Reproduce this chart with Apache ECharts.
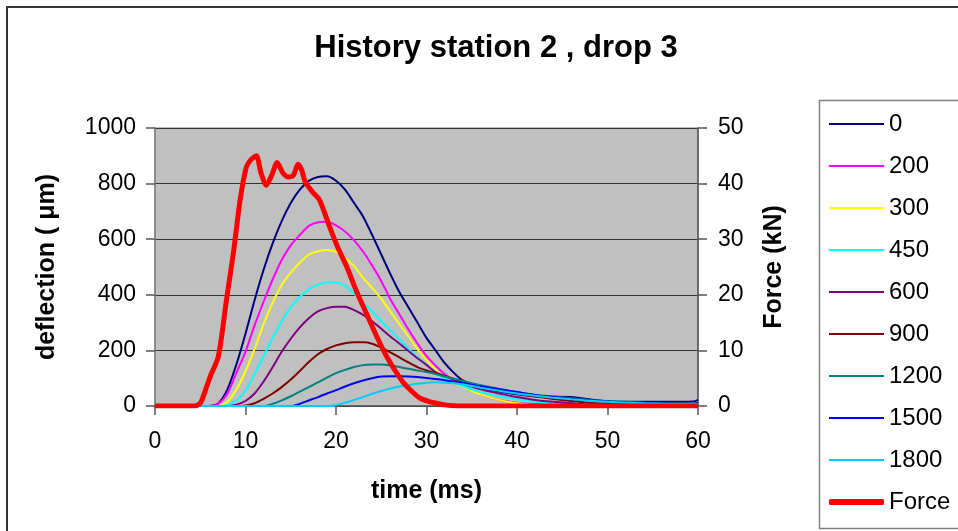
<!DOCTYPE html>
<html>
<head>
<meta charset="utf-8">
<title>History station 2 , drop 3</title>
<script src="https://cdn.jsdelivr.net/npm/echarts@6/dist/echarts.min.js"></script>
<style>
  html, body { margin: 0; padding: 0; background: #fff; }
  #chart { width: 958px; height: 531px; }
</style>
</head>
<body>
<div id="chart"></div>
<script>
// time axis shared by the deflection curves (ms)
const timeMs = [0, 6, 7, 8, 9, 10, 11, 12, 13, 14, 15, 16, 17, 18, 19, 20, 21, 22, 23, 24,
  25, 26, 27, 28, 29, 30, 31, 32, 33, 34, 35, 36, 38, 40, 42, 44, 46, 48, 50, 52,
  54, 56, 58, 59.5, 60];

// deflection (um) per geophone offset
const d0 = [0, 0, 10, 60, 150, 260, 380, 490, 585, 665, 730, 778, 810, 824, 826, 810, 778, 730, 681, 615,
  545, 475, 410, 355, 300, 245, 200, 155, 120, 92, 78, 66, 52, 42, 34, 33, 32, 24, 17, 15,
  15, 15, 15, 16, 22];
const d200 = [0, 0, 8, 45, 120, 195, 290, 375, 455, 525, 578, 615, 648, 661, 663, 650, 628, 596, 555, 505,
  450, 385, 330, 275, 225, 180, 145, 115, 92, 75, 58, 42, 22, 12, 6, 2, 1, 0, 0, 0,
  0, 0, 0, 0, 0];
const d300 = [0, 0, 0, 15, 60, 125, 205, 295, 372, 435, 480, 515, 545, 557, 561, 555, 533, 503, 460, 425,
  385, 340, 295, 250, 205, 165, 132, 103, 85, 70, 55, 42, 22, 10, 3, 0, 0, 0, 0, 0,
  0, 0, 0, 0, 0];
const d450 = [0, 0, 0, 3, 20, 55, 115, 180, 245, 305, 355, 392, 420, 436, 444, 444, 432, 405, 372, 340,
  305, 272, 240, 205, 175, 148, 122, 100, 85, 72, 60, 50, 35, 24, 15, 8, 4, 2, 0, 0,
  0, 0, 0, 0, 0];
const d600 = [0, 0, 0, 0, 5, 18, 45, 88, 140, 195, 242, 283, 316, 340, 352, 357, 357, 345, 328, 305,
  278, 250, 225, 198, 172, 148, 122, 108, 95, 82, 70, 60, 45, 32, 22, 15, 10, 6, 4, 2,
  1, 0, 0, 0, 0];
const d900 = [0, 0, 0, 0, 0, 2, 10, 26, 45, 68, 95, 126, 158, 186, 205, 218, 226, 229, 229, 224,
  210, 193, 175, 157, 140, 128, 118, 108, 98, 88, 80, 72, 58, 45, 35, 25, 18, 12, 8, 5,
  3, 2, 1, 0, 0];
const d1200 = [0, 0, 0, 0, 0, 0, 0, 0, 8, 20, 35, 52, 68, 85, 102, 118, 130, 140, 147, 149,
  149, 146, 140, 134, 128, 122, 115, 106, 98, 90, 82, 75, 62, 50, 40, 34, 28, 22, 18, 15,
  12, 10, 9, 9, 12];
const d1500 = [0, 0, 0, 0, 0, 0, 0, 0, 0, 0, 0, 8, 20, 32, 45, 57, 70, 82, 92, 100,
  106, 107, 107, 106, 104, 101, 97, 93, 88, 82, 76, 71, 60, 50, 40, 32, 25, 20, 16, 12,
  10, 8, 7, 7, 10];
const d1800 = [0, 0, 0, 0, 0, 0, 0, 0, 0, 0, 0, 0, 0, 0, 0, 3, 12, 22, 32, 44,
  54, 63, 70, 75, 80, 84, 85, 84, 82, 78, 72, 66, 55, 45, 37, 30, 24, 19, 15, 12,
  10, 8, 7, 7, 7];

// load pulse (kN), own time base
const forceTime = [0, 4.4, 5.0, 5.5, 6.1, 7.0, 7.9, 8.7, 9.4, 10.1, 10.6, 11.2, 11.7, 12.3, 12.9, 13.5,
  14.1, 14.7, 15.3, 15.8, 16.2, 16.6, 17.4, 18.2, 19.3, 20.2, 21.2, 22.3, 23.4, 24.5, 25.6,
  26.6, 27.4, 28.4, 29.3, 30.3, 31.1, 32.0, 33.0, 34.0, 60];
const forceKN = [0, 0, 0.5, 2.5, 5.3, 8.9, 19.1, 28, 37, 43, 44.3, 45, 42, 39.7, 41.5, 43.8,
  42, 41.2, 41.5, 43.5, 42.5, 40.3, 38.5, 37, 32.2, 28.5, 25, 20.5, 16.5, 12.5, 8.9,
  6.2, 4.3, 2.6, 1.4, 0.8, 0.5, 0.2, 0.05, 0, 0];

const offsetNames = ['0', '200', '300', '450', '600', '900', '1200', '1500', '1800'];
const offsetValues = [d0, d200, d300, d450, d600, d900, d1200, d1500, d1800];
const offsetColors = ['#000080', '#FF00FF', '#FFFF00', '#00FFFF', '#800080', '#800000', '#008080', '#0000FF', '#00CCFF'];

const leftTicks = [0, 1000, 200];   // min, max, interval
const rightTicks = [0, 50, 10];
const timeTicks = [0, 60, 10];

const font = 'Liberation Sans, Arial, sans-serif';

const pairs = (xs, ys) => xs.map((x, i) => [x, ys[i]]);
const plain = v => String(v);

const series = offsetNames.map((name, i) => ({
  name: name,
  type: 'line',
  yAxisIndex: 0,
  data: pairs(timeMs, offsetValues[i]),
  showSymbol: false,
  symbol: 'none',
  smooth: 0.25,
  lineStyle: { color: offsetColors[i], width: 2 },
  itemStyle: { color: offsetColors[i] },
  z: 2
}));
series.push({
  name: 'Force',
  type: 'line',
  yAxisIndex: 1,
  data: pairs(forceTime, forceKN),
  showSymbol: false,
  symbol: 'none',
  smooth: 0.25,
  lineStyle: { color: '#FF0000', width: 5 },
  itemStyle: { color: '#FF0000' },
  z: 3
});

const chart = echarts.init(document.getElementById('chart'));

const option = {
  backgroundColor: '#ffffff',
  animation: false,
  title: {
    text: 'History station 2 , drop 3',
    left: 491,
    top: 28,
    textAlign: 'center',
    textStyle: { fontFamily: font, fontSize: 31, fontWeight: 'bold', color: '#000' }
  },
  graphic: [
    {
      type: 'rect',
      z: -10,
      shape: { x: 7, y: 7, width: 1000, height: 1000 },
      style: { fill: 'none', stroke: '#333', lineWidth: 2 }
    },
    {
      type: 'rect',
      z: -5,
      shape: { x: 819.5, y: 100.5, width: 140, height: 428 },
      style: { fill: '#fff', stroke: '#808080', lineWidth: 1.5 }
    }
  ],
  legend: [
    {
      data: offsetNames,
      orient: 'vertical',
      left: 829,
      top: 112,
      padding: 0,
      itemWidth: 55,
      itemHeight: 2,
      itemGap: 18,
      icon: 'rect',
      textStyle: { fontFamily: font, fontSize: 24, lineHeight: 24, color: '#000' }
    },
    {
      data: ['Force'],
      orient: 'vertical',
      left: 829,
      top: 490,
      padding: 0,
      itemWidth: 55,
      itemHeight: 6,
      icon: 'roundRect',
      textStyle: { fontFamily: font, fontSize: 24, lineHeight: 24, color: '#000' }
    }
  ],
  grid: {
    left: 155,
    right: 260,
    top: 128,
    bottom: 125,
    show: true,
    backgroundColor: '#C0C0C0',
    borderColor: '#808080',
    borderWidth: 1,
    outerBoundsMode: 'none'
  },
  xAxis: {
    type: 'value',
    min: timeTicks[0],
    max: timeTicks[1],
    interval: timeTicks[2],
    name: 'time (ms)',
    nameLocation: 'middle',
    nameGap: 73,
    nameTextStyle: { fontFamily: font, fontSize: 25, fontWeight: 'bold', color: '#000' },
    axisLine: { show: true, lineStyle: { color: '#555', width: 1.5 } },
    axisTick: { show: true, length: 9, lineStyle: { color: '#555', width: 1.5 } },
    axisLabel: { fontFamily: font, fontSize: 23, color: '#000', margin: 24, formatter: plain, showMinLabel: true, showMaxLabel: true },
    splitLine: { show: false }
  },
  yAxis: [
    {
      type: 'value',
      min: leftTicks[0],
      max: leftTicks[1],
      interval: leftTicks[2],
      name: 'deflection ( \u03BCm)',
      nameLocation: 'middle',
      nameRotate: 90,
      nameGap: 95,
      nameTextStyle: { fontFamily: font, fontSize: 25, fontWeight: 'bold', color: '#000' },
      axisLine: { show: true, lineStyle: { color: '#808080', width: 1.5 } },
      axisTick: { show: true, length: 9, lineStyle: { color: '#555', width: 1.5 } },
      axisLabel: { fontFamily: font, fontSize: 23, color: '#000', margin: 19, formatter: plain, showMinLabel: true, showMaxLabel: true },
      splitLine: { show: true, lineStyle: { color: '#333', width: 1.2 } }
    },
    {
      type: 'value',
      position: 'right',
      min: rightTicks[0],
      max: rightTicks[1],
      interval: rightTicks[2],
      name: 'Force (kN)',
      nameLocation: 'middle',
      nameRotate: 90,
      nameGap: 64,
      nameTextStyle: { fontFamily: font, fontSize: 25, fontWeight: 'bold', color: '#000' },
      axisLine: { show: true, lineStyle: { color: '#555', width: 1.5 } },
      axisTick: { show: true, length: 9, lineStyle: { color: '#555', width: 1.5 } },
      axisLabel: { fontFamily: font, fontSize: 23, color: '#000', margin: 20, formatter: plain, showMinLabel: true, showMaxLabel: true },
      splitLine: { show: false }
    }
  ],
  series: series
};

chart.setOption(option);
</script>
</body>
</html>
